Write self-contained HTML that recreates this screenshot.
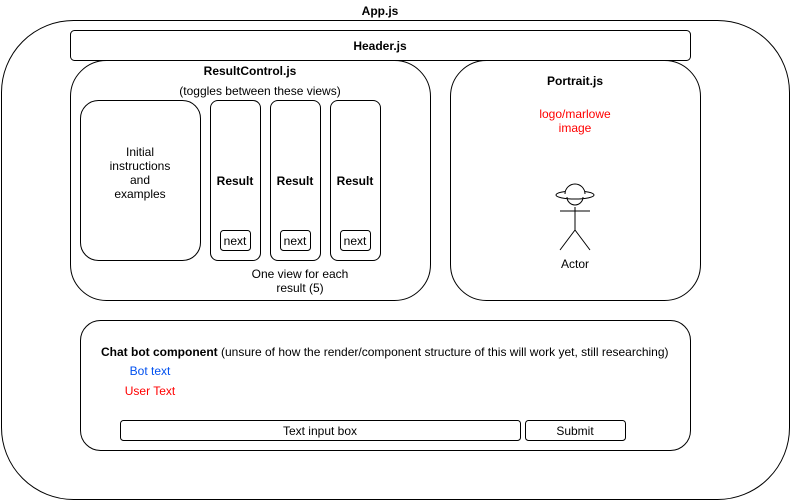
<!DOCTYPE html><html><head><style>body{margin:0;background:#fff}svg{display:block}text{font-family:"Liberation Sans",Arial,sans-serif;font-size:12px}</style></head><body>
<svg width="791" height="501" viewBox="0 0 791 501">
<g fill="#fff" stroke="#000" stroke-width="1">
<rect x="1.5" y="20.5" width="788" height="479" rx="72"/>
<rect x="70.5" y="30.5" width="620" height="30" rx="4"/>
<rect x="70.5" y="60.5" width="360" height="240" rx="36"/>
<rect x="450.5" y="60.5" width="250" height="240" rx="36"/>
<rect x="80.5" y="100.5" width="120" height="160" rx="18"/>
<rect x="210.5" y="100.5" width="50" height="160" rx="7.5"/>
<rect x="270.5" y="100.5" width="50" height="160" rx="7.5"/>
<rect x="330.5" y="100.5" width="50" height="160" rx="7.5"/>
<rect x="220.5" y="230.5" width="30" height="20" rx="3"/>
<rect x="280.5" y="230.5" width="30" height="20" rx="3"/>
<rect x="340.5" y="230.5" width="30" height="20" rx="3"/>
<rect x="80.5" y="320.5" width="610" height="130" rx="20"/>
<rect x="120.5" y="420.5" width="400" height="20" rx="3"/>
<rect x="525.5" y="420.5" width="100" height="20" rx="3"/>
<ellipse cx="575" cy="195" rx="19" ry="4"/>
<path d="M565 194 A10 10 0 0 1 585 194" fill="#fff"/>
<path d="M567 197 A8 8 0 0 0 583 197" fill="none"/>
<path d="M575 207V230M560 211H590M575 230L560 250M575 230L590 250" fill="none"/>
</g>
<g text-anchor="middle">
<text x="380" y="15" font-weight="bold">App.js</text>
<text x="380" y="50" font-weight="bold">Header.js</text>
<text x="250" y="75" font-weight="bold">ResultControl.js</text>
<text x="260" y="95">(toggles between these views)</text>
<text x="140" y="156">Initial</text><text x="140" y="170">instructions</text><text x="140" y="184">and</text><text x="140" y="198">examples</text>
<text x="235" y="185" font-weight="bold">Result</text><text x="295" y="185" font-weight="bold">Result</text><text x="355" y="185" font-weight="bold">Result</text>
<text x="235" y="245">next</text><text x="295" y="245">next</text><text x="355" y="245">next</text>
<text x="300" y="278">One view for each</text><text x="300" y="292">result (5)</text>
<text x="575" y="85" font-weight="bold">Portrait.js</text>
<text x="575" y="118" fill="#f00">logo/marlowe</text><text x="575" y="132" fill="#f00">image</text>
<text x="575" y="268">Actor</text>
<text x="150" y="375" fill="#0050ef">Bot text</text>
<text x="150" y="395" fill="#f00">User Text</text>
<text x="320" y="435">Text input box</text>
<text x="575" y="435">Submit</text>
</g>
<text x="101" y="356"><tspan font-weight="bold">Chat bot component</tspan> (unsure of how the render/component structure of this will work yet, still researching)</text>
</svg></body></html>
